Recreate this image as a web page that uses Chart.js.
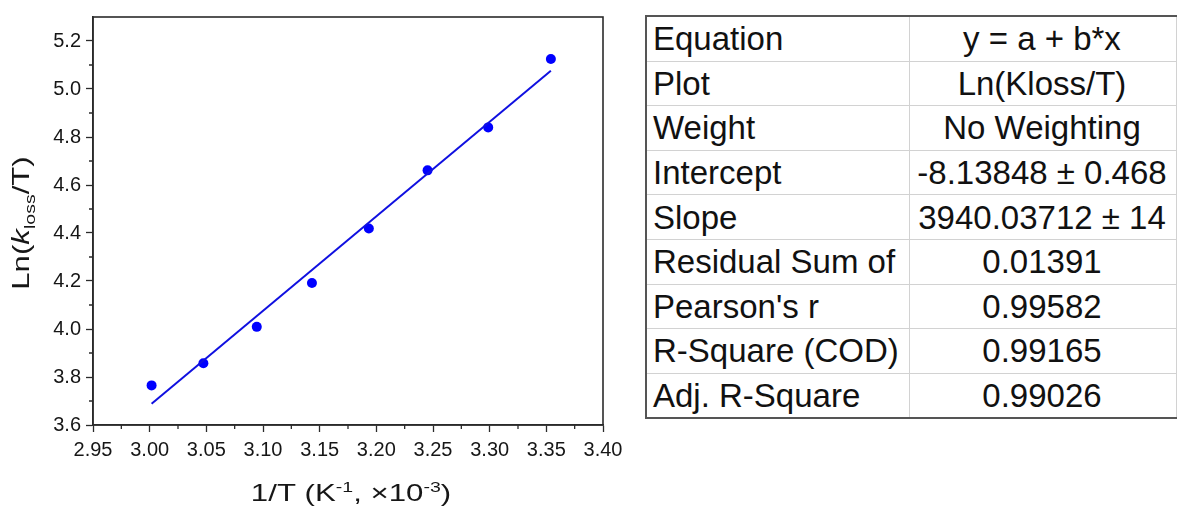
<!DOCTYPE html>
<html>
<head>
<meta charset="utf-8">
<title>Ln(kloss/T) vs 1/T</title>
<script src="https://cdn.jsdelivr.net/npm/chart.js@4.4.1/dist/chart.umd.min.js"></script>
<style>
  html, body { margin: 0; padding: 0; background: #fff; }
  #plotBox { position: absolute; left: 0; top: 0; width: 640px; height: 510px; }
  #fitTable {
    position: absolute; left: 645px; top: 15px; width: 532px;
    border-collapse: collapse; table-layout: fixed;
    font-family: "Liberation Sans", Arial, sans-serif; font-size: 33px; color: #111;
  }
  #fitTable td { height: 43.6px; padding: 0; border: 1px solid #d2d2d2; line-height: 1; white-space: nowrap; overflow: hidden; }
  #fitTable td.name { width: 256px; padding-left: 6px; text-align: left; border-left: 2px solid #555; }
  #fitTable td.val { text-align: center; padding-right: 2px; }
  #fitTable tr:first-child td { border-top: 2px solid #555; }
  #fitTable tr:last-child td { border-bottom: 2px solid #555; }
</style>
</head>
<body>
<div id="plotBox"><canvas id="arrhenius" width="640" height="510"></canvas></div>
<table id="fitTable"></table>
<script>
// 1/T in K^-1 (x 10^-3) and measured Ln(kloss/T)
const invT = [3.0017, 3.0474, 3.0945, 3.1432, 3.1934, 3.2452, 3.2987, 3.3540];
const lnKT = [3.765, 3.857, 4.009, 4.192, 4.419, 4.661, 4.840, 5.125];

// linear fit y = a + b*x (x in K^-1)
const intercept = -8.13848;
const slope = 3940.03712;

const xRange = [2.95, 3.40];
const xStep = 0.05;
const yRange = [3.6, 5.3];
const yStep = 0.2;

const statNames = ["Equation", "Plot", "Weight", "Intercept", "Slope",
  "Residual Sum of", "Pearson's r", "R-Square (COD)", "Adj. R-Square"];
const statValues = ["y = a + b*x", "Ln(Kloss/T)", "No Weighting", "-8.13848 \u00b1 0.468",
  "3940.03712 \u00b1 14", "0.01391", "0.99582", "0.99165", "0.99026"];

// fit table
const table = document.getElementById("fitTable");
statNames.forEach((name, i) => {
  const row = document.createElement("tr");
  row.innerHTML = `<td class="name">${name}</td><td class="val">${statValues[i]}</td>`;
  table.appendChild(row);
});

const fitAt = (x) => intercept + slope * x / 1000;
const fitLine = [invT[0], invT[invT.length - 1]].map((x) => ({ x: x, y: fitAt(x) }));

const AXIS = "#2b2b2b";
const TEXT = "#161616";
const SANS = '"Liberation Sans", Arial, sans-serif';

// draws a run of text pieces (sub/superscripts, italics) stretched a bit wide
function richText(ctx, parts, stretch) {
  let w = 0;
  parts.forEach((p) => { ctx.font = p.font; w += ctx.measureText(p.text).width; });
  ctx.scale(stretch, 1);
  let x = -w / 2;
  parts.forEach((p) => {
    ctx.font = p.font;
    ctx.fillText(p.text, x, p.dy || 0);
    x += ctx.measureText(p.text).width;
  });
}

const framePlugin = {
  id: "frame",
  afterDraw(chart) {
    const { ctx, chartArea: a, scales } = chart;
    ctx.save();
    ctx.strokeStyle = AXIS;
    ctx.lineWidth = 1.6;
    ctx.strokeRect(a.left, a.top, a.right - a.left, a.bottom - a.top);

    // minor ticks halfway between the labelled ones
    ctx.lineWidth = 1.3;
    ctx.beginPath();
    const xt = scales.x.ticks;
    for (let i = 0; i < xt.length - 1; i++) {
      const px = scales.x.getPixelForValue((xt[i].value + xt[i + 1].value) / 2);
      ctx.moveTo(px, a.bottom);
      ctx.lineTo(px, a.bottom + 4);
    }
    const yt = scales.y.ticks;
    for (let i = 0; i < yt.length - 1; i++) {
      const py = scales.y.getPixelForValue((yt[i].value + yt[i + 1].value) / 2);
      ctx.moveTo(a.left, py);
      ctx.lineTo(a.left - 4, py);
    }
    ctx.stroke();

    // axis titles
    ctx.fillStyle = TEXT;
    ctx.textBaseline = "alphabetic";
    const big = "24px " + SANS;
    const small = "15px " + SANS;

    ctx.save();
    ctx.translate((a.left + a.right) / 2 + 3, 501);
    richText(ctx, [
      { text: "1/T (K", font: big },
      { text: "-1", font: small, dy: -9 },
      { text: ", \u00d710", font: big },
      { text: "-3", font: small, dy: -9 },
      { text: ")", font: big }
    ], 1.3);
    ctx.restore();

    ctx.save();
    ctx.translate(29, (a.top + a.bottom) / 2 + 2);
    ctx.rotate(-Math.PI / 2);
    richText(ctx, [
      { text: "Ln(", font: big },
      { text: "k", font: "italic " + big },
      { text: "loss", font: small, dy: 6 },
      { text: "/T)", font: big }
    ], 1.3);
    ctx.restore();

    ctx.restore();
  }
};

const tickFont = { family: SANS, size: 20 };

new Chart(document.getElementById("arrhenius"), {
  type: "scatter",
  data: {
    datasets: [
      {
        type: "line",
        data: fitLine,
        borderColor: "#1010e0",
        borderWidth: 2,
        pointRadius: 0,
        fill: false
      },
      {
        data: invT.map((x, i) => ({ x: x, y: lnKT[i] })),
        backgroundColor: "#0000ff",
        borderColor: "#0000ff",
        pointRadius: 5,
        borderWidth: 0
      }
    ]
  },
  options: {
    responsive: false,
    animation: false,
    devicePixelRatio: 1,
    layout: { padding: { top: 14, right: 37, left: 0, bottom: 0 } },
    plugins: { legend: { display: false }, tooltip: { enabled: false } },
    scales: {
      x: {
        type: "linear",
        min: xRange[0],
        max: xRange[1],
        afterFit: (s) => { s.height = 85; },
        ticks: {
          stepSize: xStep,
          callback: (v) => v.toFixed(2),
          font: tickFont,
          color: TEXT,
          padding: 6,
          maxRotation: 0
        },
        grid: { drawOnChartArea: false, drawTicks: true, tickLength: 7, tickColor: AXIS, tickWidth: 1.3 },
        border: { display: true, color: AXIS, width: 1.6 }
      },
      y: {
        type: "linear",
        min: yRange[0],
        max: yRange[1],
        afterFit: (s) => { s.width = 93; },
        ticks: {
          stepSize: yStep,
          includeBounds: false,
          callback: (v) => v.toFixed(1),
          font: tickFont,
          color: TEXT,
          padding: 5
        },
        grid: { drawOnChartArea: false, drawTicks: true, tickLength: 7, tickColor: AXIS, tickWidth: 1.3 },
        border: { display: true, color: AXIS, width: 1.6 }
      }
    }
  },
  plugins: [framePlugin]
});
</script>
</body>
</html>
